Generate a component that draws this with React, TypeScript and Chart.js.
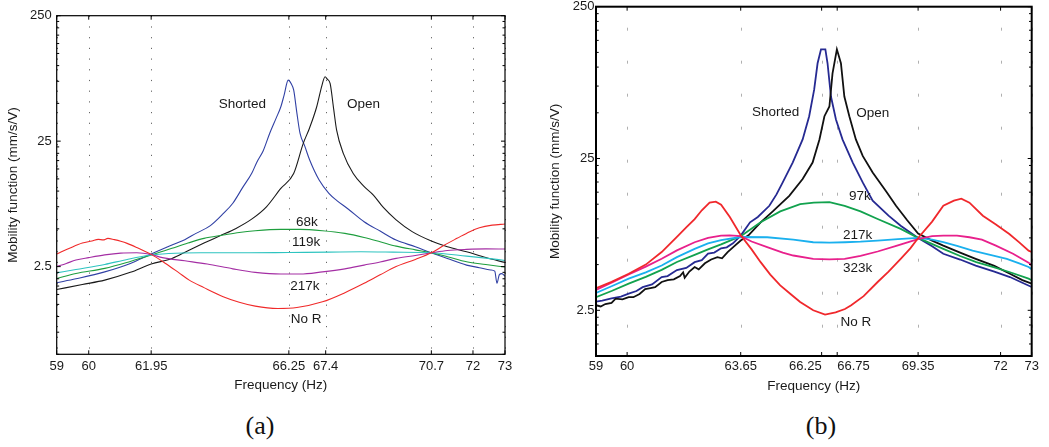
import React, { useEffect, useRef } from "react";
import { Chart, registerables } from "chart.js";

Chart.register(...registerables);

const FONT = '"Liberation Sans", Arial, Helvetica, sans-serif';

// ---------------- Panel (a) ----------------
const aXTicks = [59, 60, 61.95, 66.25, 67.4, 70.7, 72, 73];
const aYTicks = [2.5, 25, 250];
const aYMinor = [0.5, 0.75, 1, 1.25, 1.5, 1.75, 2, 2.25, 5, 7.5, 10, 12.5, 15, 17.5, 20, 22.5, 50, 75, 100, 125, 150, 175, 200, 225];

const aNoRF = [59, 59.4, 59.8, 60.1, 60.3, 60.45, 60.6, 60.8, 61.0, 61.2, 61.5, 61.95, 62.4, 62.8, 63.14, 63.6, 64.2, 64.7, 65.2, 65.9, 66.5, 67.3, 68.0, 68.6, 69.1, 69.6, 70.2, 70.7, 71.1, 71.5, 71.9, 72.2, 72.6, 73];
const aNoRV = [3.15, 3.5, 3.85, 4.0, 4.12, 4.08, 4.2, 4.1, 3.98, 3.83, 3.55, 3.13, 2.65, 2.25, 1.95, 1.7, 1.44, 1.3, 1.21, 1.16, 1.18, 1.31, 1.55, 1.84, 2.15, 2.5, 2.85, 3.22, 3.7, 4.2, 4.75, 5.1, 5.35, 5.46];

const aR217kF = [59, 59.3, 59.6, 60.0, 60.5, 61.0, 61.5, 61.95, 62.3, 63.0, 63.7, 64.5, 65.2, 66.0, 66.6, 67.3, 68.0, 68.6, 69.1, 69.6, 70.2, 70.7, 71.2, 71.8, 72.4, 73];
const aR217kV = [2.5, 2.65, 2.82, 2.95, 3.1, 3.2, 3.22, 3.12, 2.95, 2.78, 2.62, 2.4, 2.25, 2.18, 2.18, 2.27, 2.4, 2.57, 2.72, 2.91, 3.07, 3.22, 3.36, 3.43, 3.46, 3.45];

const aR119kF = [59, 59.6, 60.5, 61.2, 61.95, 62.5, 63.5, 65, 66.25, 67.5, 68.5, 69.5, 70.7, 71.8, 72.4, 73];
const aR119kV = [2.23, 2.37, 2.6, 2.85, 3.09, 3.18, 3.22, 3.22, 3.24, 3.26, 3.28, 3.26, 3.22, 3.03, 2.92, 2.8];

const aR68kF = [59, 59.6, 60.5, 61.3, 61.95, 62.6, 63.1, 63.6, 64.2, 64.7, 65.2, 66.0, 66.6, 67.3, 68.0, 68.6, 69.1, 69.6, 70.2, 70.7, 71.2, 71.8, 72.4, 73];
const aR68kV = [2.01, 2.2, 2.42, 2.75, 3.09, 3.5, 3.85, 4.2, 4.46, 4.68, 4.83, 4.95, 4.95, 4.83, 4.6, 4.27, 3.95, 3.64, 3.4, 3.22, 3.0, 2.73, 2.6, 2.48];

const aShortedF = [59, 59.6, 60.5, 61.3, 61.95, 62.6, 63.0, 63.35, 63.8, 64.2, 64.5, 64.8, 65.1, 65.25, 65.45, 65.65, 65.85, 66.0, 66.1, 66.23, 66.32, 66.4, 66.5, 66.6, 66.75, 66.9, 67.2, 67.5, 67.75, 68.1, 68.6, 69.1, 69.6, 70.2, 70.7, 71.2, 71.8, 72.2, 72.55, 72.68, 72.75, 72.82, 72.9, 73];
const aShortedV = [1.86, 2.0, 2.27, 2.65, 3.15, 3.71, 4.1, 4.6, 5.3, 6.6, 8.0, 10.6, 14, 17, 21, 28.8, 38, 47, 58, 76.7, 72, 64, 42, 28.8, 22.7, 17.7, 12.2, 9.6, 8.4, 7.2, 5.69, 4.8, 4.07, 3.6, 3.22, 2.9, 2.57, 2.45, 2.35, 2.3, 1.84, 2.15, 2.2, 2.1];

const aOpenF = [59, 59.8, 60.5, 61.3, 61.95, 62.6, 63.1, 63.6, 64.1, 64.6, 65.1, 65.55, 66.0, 66.4, 66.7, 66.9, 67.12, 67.28, 67.38, 67.45, 67.54, 67.65, 67.74, 67.95, 68.26, 68.58, 68.89, 69.2, 69.6, 70.1, 70.7, 71.2, 71.8, 72.4, 73];
const aOpenV = [1.64, 1.8, 1.95, 2.25, 2.62, 2.9, 3.35, 3.85, 4.4, 5.04, 6.0, 7.49, 10.5, 13.8, 24, 32, 47, 69, 81.6, 78, 72, 45, 30.8, 20, 13.8, 11.0, 9.3, 7.4, 5.9, 4.75, 4.0, 3.6, 3.28, 2.95, 2.7];

const aNotes = [
  { text: "Shorted", f: 64.8, v: 49.1 },
  { text: "Open", f: 68.58, v: 49.1 },
  { text: "68k", f: 66.81, v: 5.69 },
  { text: "119k", f: 66.79, v: 3.9 },
  { text: "217k", f: 66.75, v: 1.75 },
  { text: "No R", f: 66.79, v: 0.953 },
];

// ---------------- Panel (b) ----------------
const bXTicks = [59, 60, 63.65, 66.25, 66.75, 69.35, 72, 73];
const bYTicks = [2.5, 25, 250];
const bYMinor = [1.25, 1.5, 1.75, 2, 2.25, 5, 7.5, 10, 12.5, 15, 17.5, 20, 22.5, 50, 75, 100, 125, 150, 175, 200, 225];

const bNoRF = [59, 59.5, 60.05, 60.6, 61.11, 61.64, 61.9, 62.17, 62.4, 62.65, 62.85, 63.02, 63.3, 63.65, 64.0, 64.29, 64.6, 64.92, 65.25, 65.56, 65.98, 66.36, 66.7, 67.0, 67.2, 67.6, 68.05, 68.4, 68.79, 69.1, 69.37, 69.8, 70.16, 70.5, 70.74, 71.0, 71.43, 71.85, 72.28, 72.6, 72.9, 73];
const bNoRV = [3.5, 3.85, 4.35, 5.0, 6.05, 7.76, 8.8, 9.98, 11.4, 12.8, 13.0, 12.4, 10.3, 7.8, 6.3, 5.19, 4.3, 3.65, 3.2, 2.84, 2.5, 2.34, 2.42, 2.55, 2.7, 3.1, 3.84, 4.5, 5.46, 6.4, 7.57, 9.6, 12.2, 13.2, 13.6, 12.8, 10.5, 9.2, 7.96, 7.0, 6.18, 6.05];

const bR323kF = [59, 59.5, 60.05, 60.6, 61.11, 61.6, 62.17, 62.6, 63.02, 63.3, 63.65, 64.0, 64.5, 65.0, 65.34, 65.98, 66.5, 66.99, 67.5, 68.05, 68.7, 69.37, 69.8, 70.16, 70.6, 71.0, 71.4, 71.85, 72.4, 72.9, 73];
const bR323kV = [3.4, 3.8, 4.3, 4.85, 5.46, 6.2, 7.02, 7.5, 7.76, 7.8, 7.7, 7.1, 6.51, 6.0, 5.74, 5.46, 5.42, 5.46, 5.7, 6.1, 6.7, 7.38, 7.7, 7.76, 7.75, 7.57, 7.3, 6.67, 5.9, 5.15, 4.95];

const bR217kF = [59, 59.5, 60.05, 60.6, 61.11, 61.6, 62.17, 62.6, 63.02, 63.65, 64.5, 65.34, 65.98, 66.5, 67.0, 67.5, 68.05, 68.7, 69.35, 69.8, 70.16, 70.6, 71.1, 71.6, 72.2, 72.6, 72.9, 73];
const bR217kV = [3.25, 3.6, 4.04, 4.45, 4.93, 5.6, 6.35, 6.9, 7.25, 7.6, 7.57, 7.3, 7.02, 6.98, 7.02, 7.08, 7.2, 7.35, 7.5, 7.3, 7.02, 6.65, 6.18, 5.85, 5.46, 5.1, 4.82, 4.66];

const bR97kF = [59, 59.5, 60.05, 60.6, 61.11, 61.6, 62.17, 62.6, 63.02, 63.65, 64.29, 64.92, 65.56, 66.0, 66.5, 66.99, 67.5, 68.05, 68.79, 69.35, 70.16, 70.7, 71.22, 71.8, 72.28, 72.9, 73];
const bR97kV = [3.05, 3.35, 3.75, 4.15, 4.62, 5.2, 5.8, 6.3, 6.8, 7.7, 9.5, 11.2, 12.5, 12.8, 12.9, 12.2, 11.2, 9.98, 8.59, 7.5, 6.35, 5.7, 5.19, 4.8, 4.47, 4.04, 3.94];

const bShortedF = [59, 59.2, 59.5, 59.8, 60.05, 60.3, 60.5, 60.8, 61.11, 61.3, 61.6, 61.9, 62.17, 62.4, 62.6, 62.8, 63.02, 63.2, 63.4, 63.65, 63.95, 64.2, 64.57, 64.8, 65.0, 65.32, 65.64, 65.85, 66.01, 66.12, 66.23, 66.37, 66.44, 66.55, 66.71, 66.92, 67.25, 67.57, 67.89, 68.4, 68.79, 69.35, 69.8, 70.16, 70.7, 71.2, 71.8, 72.3, 72.7, 73];
const bShortedV = [2.85, 2.9, 3.0, 3.08, 3.22, 3.35, 3.55, 3.7, 4.14, 4.2, 4.6, 4.75, 5.19, 5.35, 5.9, 6.0, 6.4, 6.5, 6.9, 7.76, 9.5, 10.3, 12.2, 14.5, 17.4, 23.5, 33.4, 47.5, 71, 106, 131, 131, 106, 64, 45.2, 33.4, 23.5, 17.4, 13.2, 10.5, 9.02, 7.5, 6.6, 5.89, 5.4, 4.93, 4.5, 4.14, 3.8, 3.56];

const bOpenF = [59, 59.15, 59.3, 59.5, 59.63, 59.85, 60.05, 60.2, 60.4, 60.58, 60.75, 60.9, 61.11, 61.3, 61.5, 61.7, 61.8, 61.85, 62.0, 62.17, 62.3, 62.5, 62.7, 62.9, 63.05, 63.23, 63.4, 63.65, 63.9, 64.29, 64.68, 65.21, 65.64, 65.96, 66.18, 66.34, 66.5, 66.6, 66.74, 66.87, 66.98, 67.14, 67.35, 67.57, 67.89, 68.32, 68.64, 69.0, 69.35, 69.8, 70.16, 70.7, 71.2, 71.8, 72.3, 72.7, 73];
const bOpenV = [2.7, 2.65, 2.75, 2.8, 2.98, 2.95, 3.05, 3.05, 3.2, 3.45, 3.5, 3.55, 3.84, 3.95, 4.0, 4.2, 4.45, 4.1, 4.5, 4.82, 4.65, 5.1, 5.4, 5.6, 5.5, 6.05, 6.5, 7.2, 7.8, 9.5, 11.2, 14.2, 18.3, 23.5, 33.4, 47.5, 55, 91, 131, 106, 64, 47.5, 33.4, 26, 20.2, 15.2, 12.2, 9.8, 8.0, 7.2, 6.67, 6.0, 5.46, 4.9, 4.35, 3.95, 3.75];

const bNotes = [
  { text: "Shorted", f: 64.77, v: 50.4 },
  { text: "Open", f: 67.89, v: 49.5 },
  { text: "97k", f: 67.48, v: 14.2 },
  { text: "217k", f: 67.41, v: 7.84 },
  { text: "323k", f: 67.41, v: 4.76 },
  { text: "No R", f: 67.35, v: 2.08 },
];

type Series = { f: number[]; v: number[]; color: string };
type Note = { text: string; f: number; v: number };
type Panel = {
  left: number; width: number; height: number;
  series: Series[]; notes: Note[];
  xTicks: number[]; xAlign: CanvasTextAlign[];
  yTicks: number[]; yMinor: number[]; yMin: number; yMax: number;
  lineWidth: number; smooth: boolean;
  frameWidth: number; gridColor: string; gridDash: number[]; gridWidth: number; gridOffset: number;
  padding: { top: number; right: number; bottom: number; left: number };
  yAxisWidth: number; xAxisHeight: number;
  yTitlePad: number; xTitlePad: number; yLabelGap: number; xLabelGap: number;
  tickLen: number; minorLen: number;
};

const panelA: Panel = {
  left: 0, width: 520, height: 400,
  series: [
    { f: aNoRF, v: aNoRV, color: "#f02a2a" },
    { f: aR217kF, v: aR217kV, color: "#a42ea4" },
    { f: aR119kF, v: aR119kV, color: "#2ec4c0" },
    { f: aR68kF, v: aR68kV, color: "#1e9e3e" },
    { f: aOpenF, v: aOpenV, color: "#1a1a1a" },
    { f: aShortedF, v: aShortedV, color: "#3040a4" },
  ],
  notes: aNotes,
  xTicks: aXTicks,
  xAlign: ["center", "center", "center", "center", "center", "center", "center", "center"],
  yTicks: aYTicks, yMinor: aYMinor, yMin: 0.5, yMax: 250,
  lineWidth: 1.1, smooth: true,
  frameWidth: 1.2, gridColor: "#666", gridDash: [1.2, 9.5], gridWidth: 1, gridOffset: 0,
  padding: { top: 15.7, right: 15, bottom: 0, left: 0 },
  yAxisWidth: 56.7, xAxisHeight: 45.7,
  yTitlePad: 5.2, xTitlePad: 6.9, yLabelGap: 5, xLabelGap: 12.4,
  tickLen: 4, minorLen: 2.5,
};

const panelB: Panel = {
  left: 545, width: 504, height: 400,
  series: [
    { f: bNoRF, v: bNoRV, color: "#f0282c" },
    { f: bR323kF, v: bR323kV, color: "#e8208c" },
    { f: bR217kF, v: bR217kV, color: "#1ab0ee" },
    { f: bR97kF, v: bR97kV, color: "#12a24e" },
    { f: bOpenF, v: bOpenV, color: "#111111" },
    { f: bShortedF, v: bShortedV, color: "#262a92" },
  ],
  notes: bNotes,
  xTicks: bXTicks,
  xAlign: ["center", "center", "center", "right", "left", "center", "center", "center"],
  yTicks: bYTicks, yMinor: bYMinor, yMin: 1.25, yMax: 250,
  lineWidth: 1.8, smooth: false,
  frameWidth: 2, gridColor: "#b0b0b0", gridDash: [3, 30], gridWidth: 1, gridOffset: 12,
  padding: { top: 6.7, right: 17.3, bottom: 0, left: 0 },
  yAxisWidth: 51, xAxisHeight: 44,
  yTitlePad: 2.6, xTitlePad: 5.2, yLabelGap: 1.5, xLabelGap: 10,
  tickLen: 4, minorLen: 2.7,
};

function buildConfig(p: Panel): any {
  const axesPlugin = {
    id: "matlabAxes",
    beforeDatasetsDraw(chart: any) {
      const { ctx, chartArea: a, scales } = chart;
      const x = scales.x;
      ctx.save();
      ctx.strokeStyle = p.gridColor;
      ctx.lineWidth = p.gridWidth;
      ctx.setLineDash(p.gridDash);
      ctx.lineDashOffset = p.gridOffset;
      p.xTicks.forEach((v) => {
        const px = Math.round(x.getPixelForValue(v)) + 0.5;
        ctx.beginPath();
        ctx.moveTo(px, a.top);
        ctx.lineTo(px, a.bottom);
        ctx.stroke();
      });
      ctx.restore();
    },
    afterDatasetsDraw(chart: any) {
      const { ctx, chartArea: a, scales } = chart;
      const x = scales.x;
      const y = scales.y;
      const seg = (x1: number, y1: number, x2: number, y2: number) => {
        ctx.beginPath();
        ctx.moveTo(x1, y1);
        ctx.lineTo(x2, y2);
        ctx.stroke();
      };
      ctx.save();
      ctx.setLineDash([]);
      ctx.strokeStyle = "#000";
      ctx.lineWidth = 1;
      p.xTicks.forEach((v) => {
        const px = x.getPixelForValue(v);
        seg(px, a.bottom, px, a.bottom - p.tickLen);
        seg(px, a.top, px, a.top + p.tickLen);
      });
      p.yTicks.forEach((v) => {
        const py = y.getPixelForValue(v);
        seg(a.left, py, a.left + p.tickLen, py);
        seg(a.right, py, a.right - p.tickLen, py);
      });
      p.yMinor.forEach((v) => {
        const py = y.getPixelForValue(v);
        seg(a.left, py, a.left + p.minorLen, py);
        seg(a.right, py, a.right - p.minorLen, py);
      });
      ctx.lineWidth = p.frameWidth;
      ctx.strokeRect(a.left, a.top, a.right - a.left, a.bottom - a.top);

      ctx.fillStyle = "#1a1a1a";
      ctx.font = `13px ${FONT}`;
      ctx.textBaseline = "middle";
      p.xTicks.forEach((v, i) => {
        ctx.textAlign = p.xAlign[i];
        ctx.fillText(String(v), x.getPixelForValue(v), a.bottom + p.xLabelGap);
      });
      ctx.textAlign = "right";
      p.yTicks.forEach((v) => {
        ctx.fillText(String(v), a.left - p.yLabelGap, y.getPixelForValue(v));
      });
      ctx.font = `13.5px ${FONT}`;
      ctx.textAlign = "center";
      p.notes.forEach((n) => {
        ctx.fillText(n.text, x.getPixelForValue(n.f), y.getPixelForValue(n.v));
      });
      ctx.restore();
    },
  };

  return {
    type: "line",
    data: {
      datasets: p.series.map((s) => ({
        data: s.f.map((f, i) => ({ x: f, y: s.v[i] })),
        borderColor: s.color,
        borderWidth: p.lineWidth,
        pointRadius: 0,
        fill: false,
        tension: 0,
        cubicInterpolationMode: p.smooth ? "monotone" : "default",
      })),
    },
    options: {
      responsive: false,
      animation: false,
      events: [],
      layout: { padding: p.padding },
      plugins: { legend: { display: false }, tooltip: { enabled: false } },
      scales: {
        x: {
          type: "linear",
          min: 59,
          max: 73,
          grid: { display: false },
          border: { display: false },
          ticks: { display: false },
          title: {
            display: true,
            text: "Frequency (Hz)",
            color: "#1a1a1a",
            font: { family: FONT, size: 13.5 },
            padding: { top: 0, bottom: p.xTitlePad },
          },
          afterFit: (s: any) => {
            s.height = p.xAxisHeight;
          },
        },
        y: {
          type: "logarithmic",
          min: p.yMin,
          max: p.yMax,
          grid: { display: false },
          border: { display: false },
          ticks: { display: false },
          title: {
            display: true,
            text: "Mobility function (mm/s/V)",
            color: "#1a1a1a",
            font: { family: FONT, size: 13.5 },
            padding: { top: p.yTitlePad, bottom: 0 },
          },
          afterFit: (s: any) => {
            s.width = p.yAxisWidth;
          },
        },
      },
    },
    plugins: [axesPlugin],
  };
}

function PanelChart({ p }: { p: Panel }) {
  const ref = useRef<HTMLCanvasElement>(null);
  useEffect(() => {
    const chart = new Chart(ref.current as HTMLCanvasElement, buildConfig(p));
    return () => chart.destroy();
  }, [p]);
  return (
    <canvas
      ref={ref}
      width={p.width}
      height={p.height}
      style={{ position: "absolute", left: p.left, top: 0, width: p.width, height: p.height }}
    />
  );
}

const captionStyle: React.CSSProperties = {
  position: "absolute",
  top: 408,
  width: 60,
  textAlign: "center",
  fontFamily: '"Liberation Serif", "Times New Roman", serif',
  fontSize: 26,
  lineHeight: "36px",
  color: "#111",
};

export default function App() {
  return (
    <div style={{ position: "fixed", left: 0, top: 0, width: 1049, height: 447, background: "#fff", overflow: "hidden" }}>
      <PanelChart p={panelA} />
      <PanelChart p={panelB} />
      <div style={{ ...captionStyle, left: 230 }}>(a)</div>
      <div style={{ ...captionStyle, left: 791 }}>(b)</div>
    </div>
  );
}
